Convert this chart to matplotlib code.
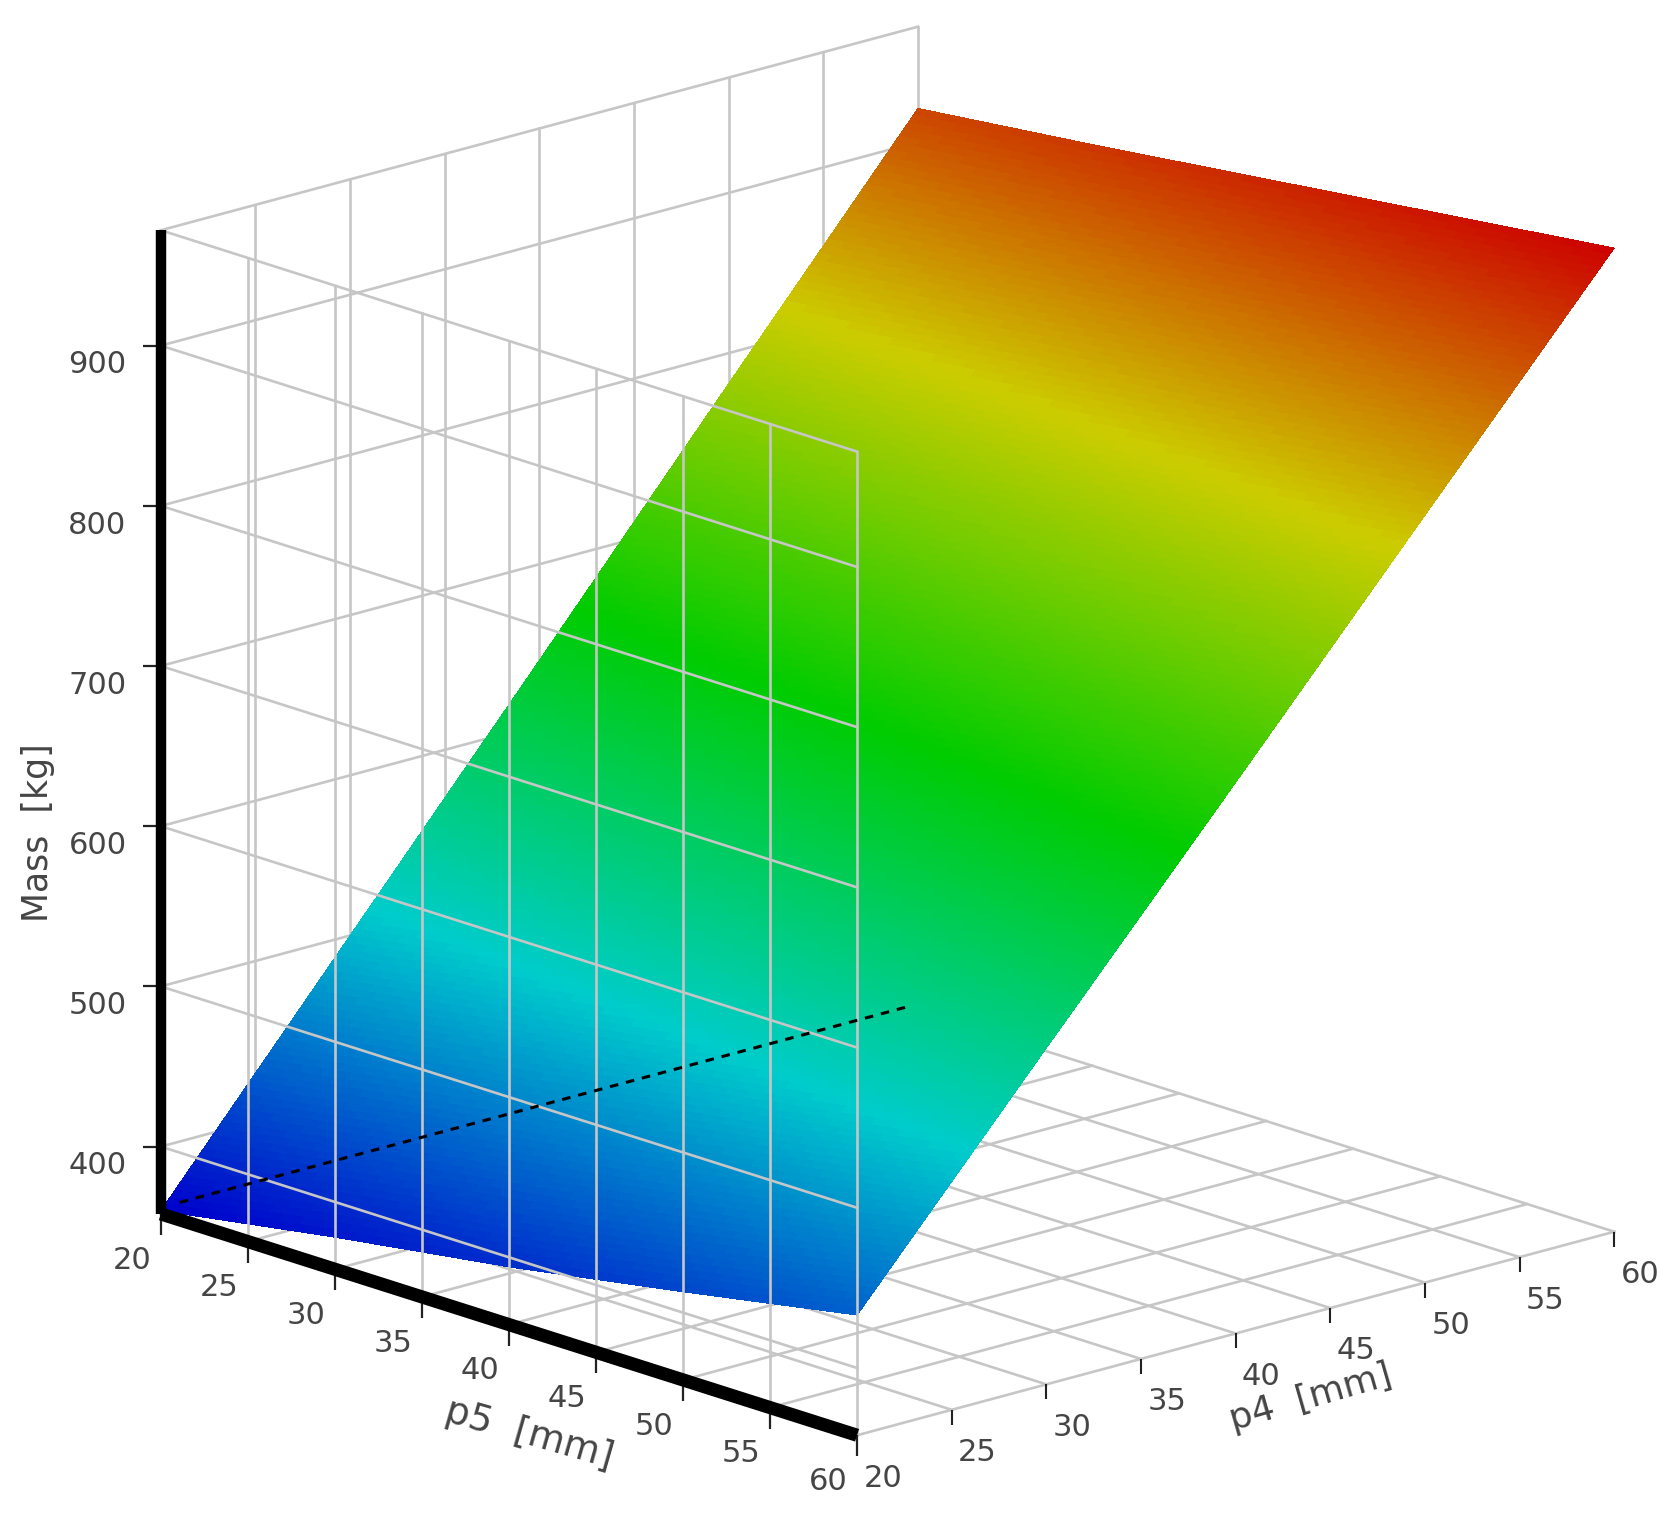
import numpy as np
import matplotlib
matplotlib.use("Agg")
import matplotlib.pyplot as plt
from matplotlib.colors import LinearSegmentedColormap, Normalize
from mpl_toolkits.mplot3d import proj3d

# ---- data ----
p5_ticks = [20, 25, 30, 35, 40, 45, 50, 55, 60]
p4_ticks = [20, 25, 30, 35, 40, 45, 50, 55, 60]
mass_ticks = [400, 500, 600, 700, 800, 900]
p5_nodes = [20, 30, 40, 50, 60]
p4_nodes = [20, 30, 40, 50, 60]
mass_p4_20 = [360, 378, 394, 413, 433]
mass_p4_30 = [500, 517, 534, 551, 568]
mass_p4_40 = [640, 655, 671, 686, 702]
mass_p4_50 = [781, 794, 808, 822, 837]
mass_p4_60 = [921, 933, 946, 959, 972]
mass_range = [358, 972]
dashed_p4 = [21, 59.5]

W, H = 1675, 1524
SC = 1675 / 1560  # offsets below are measured on a 1560-wide view
fig = plt.figure(figsize=(W / 100, H / 100), dpi=100, facecolor="white")
S = 1729.5
cx, cy = 887.5, 1524 - 731.0
left = cx - 0.5135 * S
bottom = cy - 0.5135 * S
ax = fig.add_axes([left / W, bottom / H, S / W, S / H], projection="3d",
                  proj_type="ortho", computed_zorder=False)
ax.set_box_aspect((1, 1, 1))
ax.view_init(elev=17.0, azim=-42.6)
ax.set_xlim(p5_ticks[0], p5_ticks[-1])
ax.set_ylim(p4_ticks[0], p4_ticks[-1])
ax.set_zlim(*mass_range)
ax.set_axis_off()

GRID = "#c6c6c6"
TXT = "#454545"
LW = 1.9
x0, x1 = p5_ticks[0], p5_ticks[-1]
y0, y1 = p4_ticks[0], p4_ticks[-1]
z0, z1 = mass_range

# floor and back-left wall, behind the surface
for v in p5_ticks:
    ax.plot([v, v], [y0, y1], [z0, z0], color=GRID, lw=LW, zorder=1)
for v in p4_ticks:
    ax.plot([x0, x1], [v, v], [z0, z0], color=GRID, lw=LW, zorder=1)
    ax.plot([x0, x0], [v, v], [z0, z1], color=GRID, lw=LW, zorder=1)
for m in mass_ticks + [z1]:
    ax.plot([x0, x0], [y0, y1], [m, m], color=GRID, lw=LW, zorder=1)

# surface (nodes subdivided only so the colour shading is smooth)
mass = np.array([mass_p4_20, mass_p4_30, mass_p4_40, mass_p4_50, mass_p4_60], float)
fx = np.linspace(x0, x1, 161)
fy = np.linspace(y0, y1, 161)
tmp = np.array([np.interp(fx, p5_nodes, row) for row in mass])
Z = np.array([np.interp(fy, p4_nodes, tmp[:, j]) for j in range(len(fx))]).T
X, Y = np.meshgrid(fx, fy)
cmap = LinearSegmentedColormap.from_list(
    "ansys", ["#0000cc", "#00cccc", "#00cc00", "#cccc00", "#cc0000"])
colors = cmap(Normalize(358, 972)(Z))
ax.plot_surface(X, Y, Z, facecolors=colors, rstride=1, cstride=1, shade=False,
                linewidth=0, antialiased=False, zorder=2)

# front wall, over the surface
for v in p5_ticks[1:]:
    ax.plot([v, v], [y0, y0], [z0, z1], color=GRID, lw=LW, zorder=3)
for m in mass_ticks + [z1]:
    ax.plot([x0, x1], [y0, y0], [m, m], color=GRID, lw=LW, zorder=3)

# dashed line
ax.plot([x0, x0], dashed_p4, [z0 + 4, z0 + 4], color="black", lw=2.2,
        ls=(0, (2.8, 2.6)), zorder=4)

# axes
ax.plot([x0, x0], [y0, y0], [z0, z1], color="black", lw=7.5, zorder=5,
        solid_capstyle="butt")
ax.plot([x0, x1], [y0, y0], [z0, z0], color="black", lw=9.5, zorder=5,
        solid_capstyle="butt")
for m in mass_ticks:
    ax.plot([x0], [y0], [m], marker=0, ms=13, mew=1.6, color="#222222", zorder=4.5)
for v in p5_ticks:
    ax.plot([v], [y0], [z0], marker=3, ms=15, mew=1.6, color="#222222", zorder=4.5)
for v in p4_ticks[1:]:
    ax.plot([x1], [v], [z0], marker=3, ms=11, mew=1.5, color="#222222", zorder=4.5)

M = ax.get_proj()


def label(s, x, y, z, dx, dy, size=22, rot=0):
    """Text anchored to a 3D point; (dx, dy) in view px, y downward."""
    px, py, _ = proj3d.proj_transform(x, y, z, M)
    ax.annotate(s, xy=(px, py), xycoords="data",
                xytext=(dx * SC, -dy * SC), textcoords="offset pixels",
                ha="center", va="center", rotation=rot,
                rotation_mode="anchor", color=TXT, fontsize=size,
                family="DejaVu Sans", annotation_clip=False, zorder=6)


for m in mass_ticks:
    label(str(m), x0, y0, m, -59, 18)
for v in p5_ticks:
    label(str(v), v, y0, z0, -27, 43)
for v in p4_ticks:
    label(str(v), x1, v, z0, 24, 40)

label("Mass  [kg]", x0, y0, 596, -114, 0, size=25, rot=90)
label("p5  [mm]", 40, y0, z0, 19, 102, size=27, rot=-16)
label("p4  [mm]", x1, 40, z0, 70, 60, size=26, rot=16)

fig.savefig("out.png", dpi=100, facecolor="white")
